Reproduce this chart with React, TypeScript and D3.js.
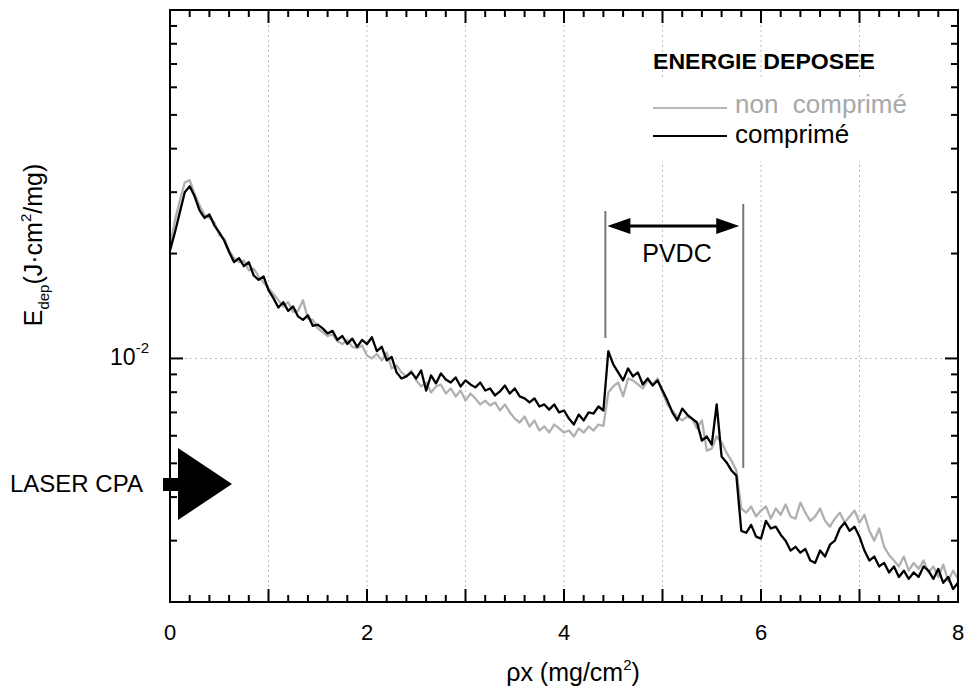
import React, { useRef, useEffect } from 'react';
import * as d3 from 'd3';

const width = 972;
const height = 691;

// sampling grid of the curves, rho*x in mg/cm2
const rhoX = d3.range(161).map((i) => +(i * 0.05).toFixed(2));

// deposited energy, in units of 1e-3 J.cm2/mg
const nonComprime = [
  21.1, 24.9, 28.4, 32.0, 32.5, 29.6, 27.5, 25.8, 25.3, 24.6,
  22.6, 22.1, 20.4, 19.4, 18.9, 19.1, 17.9, 18.1, 17.2, 16.5,
  15.9, 15.3, 14.7, 14.1, 14.5, 13.6, 13.7, 14.7, 13.0, 12.9,
  12.2, 11.9, 11.6, 11.7, 11.2, 11.0, 11.3, 10.8, 10.7, 10.9,
  10.2, 10.0, 10.3, 9.87, 10.4, 9.36, 9.55, 9.12, 8.88, 9.24,
  8.65, 8.31, 8.53, 7.98, 8.31, 8.42, 7.93, 8.20, 7.78, 8.09,
  7.57, 7.93, 7.68, 7.38, 7.57, 7.33, 7.48, 7.09, 7.38, 7.00,
  6.72, 6.55, 6.81, 6.38, 6.64, 6.21, 6.38, 6.13, 6.46, 6.30,
  6.13, 6.21, 5.97, 6.30, 6.13, 6.38, 6.21, 6.46, 6.40, 7.98,
  8.31, 8.53, 7.78, 8.76, 8.65, 8.42, 8.20, 8.65, 8.42, 8.76,
  7.98, 7.38, 7.09, 6.81, 6.64, 6.81, 6.72, 6.30, 6.64, 5.44,
  5.51, 5.97, 5.74, 5.37, 5.09, 4.77, 3.71, 3.61, 3.76, 3.52,
  3.66, 3.76, 3.47, 3.71, 3.56, 3.81, 3.52, 3.47, 3.86, 3.61,
  3.42, 3.52, 3.71, 3.42, 3.29, 3.47, 3.61, 3.38, 3.52, 3.66,
  3.38, 3.56, 3.20, 3.00, 3.25, 2.88, 2.73, 2.63, 2.53, 2.70,
  2.46, 2.59, 2.49, 2.63, 2.43, 2.53, 2.36, 2.56, 2.30, 2.46,
  2.33,
];

const comprime = [
  20.4, 23.0, 26.3, 30.0, 31.2, 29.2, 26.6, 25.3, 25.9, 24.1,
  23.0, 21.8, 20.2, 18.9, 19.4, 18.4, 18.9, 17.3, 16.8, 17.2,
  15.7, 14.9, 14.0, 14.5, 13.7, 14.1, 13.2, 12.9, 13.3, 12.4,
  12.5, 12.2, 11.8, 12.0, 11.3, 11.6, 11.0, 11.4, 10.8, 11.3,
  11.0, 11.5, 10.5, 10.8, 9.87, 10.1, 9.12, 8.76, 8.88, 9.12,
  8.76, 9.24, 8.09, 8.94, 8.48, 9.06, 8.70, 8.53, 8.82, 8.31,
  8.65, 8.42, 8.26, 8.53, 8.09, 8.20, 7.83, 8.04, 8.36, 7.93,
  8.20, 7.78, 7.68, 7.48, 7.68, 7.28, 7.38, 7.13, 7.38, 7.00,
  7.09, 6.72, 6.46, 6.90, 6.64, 7.00, 6.95, 7.28, 7.09, 10.5,
  9.61, 9.12, 8.65, 9.36, 8.88, 9.12, 8.42, 8.76, 8.36, 8.65,
  8.09, 7.57, 7.00, 6.64, 7.18, 6.90, 6.72, 6.55, 5.81, 5.97,
  5.66, 7.38, 5.23, 5.03, 4.77, 4.61, 3.20, 3.16, 3.33, 3.08,
  3.04, 3.42, 3.25, 3.29, 3.12, 3.00, 2.81, 2.88, 2.77, 2.84,
  2.63, 2.59, 2.81, 2.70, 2.92, 3.00, 3.25, 3.38, 3.20, 3.29,
  3.08, 2.81, 2.63, 2.70, 2.53, 2.59, 2.43, 2.53, 2.36, 2.46,
  2.33, 2.43, 2.36, 2.53, 2.46, 2.33, 2.49, 2.27, 2.36, 2.18,
  2.27,
];
const unit = 1e-3;

const xLabelTicks = [0, 2, 4, 6, 8];
const pvdcStart = 4.42;
const pvdcEnd = 5.82;

const FONT = '"Liberation Sans", Arial, Helvetica, sans-serif';

const App: React.FC = () => {
  const svgRef = useRef<SVGSVGElement>(null);

  useEffect(() => {
    const svg = d3.select(svgRef.current);
    svg.selectAll('*').remove();

    const left = 170, right = 958, top = 10, bottom = 602;
    const x = d3.scaleLinear().domain([0, 8]).range([left, right]);
    const y = d3.scaleLog().domain([0.002, 0.1]).range([bottom, top]);

    const g = svg.append('g').attr('font-family', FONT);

    // grid
    const grid = g.append('g').attr('stroke', '#bdbdbd').attr('stroke-width', 1).attr('stroke-dasharray', '2,3');
    d3.range(1, 8).forEach((v) => {
      grid.append('line').attr('x1', x(v)).attr('x2', x(v)).attr('y1', top).attr('y2', bottom);
    });
    grid.append('line').attr('x1', left).attr('x2', right).attr('y1', y(0.01)).attr('y2', y(0.01));

    // white box behind legend entries
    g.append('rect').attr('x', 640).attr('y', 78).attr('width', 280).attr('height', 83).attr('fill', '#fff');

    // curves
    const line = d3.line<number>()
      .x((_, i) => x(rhoX[i]))
      .y((d) => y(d * unit));

    g.append('path').datum(nonComprime).attr('d', line).attr('fill', 'none')
      .attr('stroke', '#b0b0b0').attr('stroke-width', 2.3).attr('stroke-linejoin', 'round');
    g.append('path').datum(comprime).attr('d', line).attr('fill', 'none')
      .attr('stroke', '#000').attr('stroke-width', 2.3).attr('stroke-linejoin', 'round');

    // ticks (inward on all four sides)
    const ticks = g.append('g').attr('stroke', '#000').attr('stroke-width', 2);
    d3.range(0, 41).forEach((i) => {
      const v = i * 0.2;
      const len = i % 5 === 0 ? 13 : 7;
      ticks.append('line').attr('x1', x(v)).attr('x2', x(v)).attr('y1', bottom).attr('y2', bottom - len);
      ticks.append('line').attr('x1', x(v)).attr('x2', x(v)).attr('y1', top).attr('y2', top + len);
    });
    const yTickVals: number[] = [];
    [0.001, 0.01].forEach((dec) => d3.range(1, 10).forEach((k) => yTickVals.push(k * dec)));
    yTickVals.push(0.1);
    yTickVals.filter((v) => v >= 0.002 - 1e-9).forEach((v) => {
      const major = Math.abs(v - 0.01) < 1e-9 || Math.abs(v - 0.1) < 1e-9;
      const len = major ? 13 : 7;
      ticks.append('line').attr('x1', left).attr('x2', left + len).attr('y1', y(v)).attr('y2', y(v));
      ticks.append('line').attr('x1', right).attr('x2', right - len).attr('y1', y(v)).attr('y2', y(v));
    });

    // frame
    g.append('rect').attr('x', left).attr('y', top).attr('width', right - left).attr('height', bottom - top)
      .attr('fill', 'none').attr('stroke', '#000').attr('stroke-width', 2);

    // tick labels
    xLabelTicks.forEach((v) => {
      g.append('text').attr('x', x(v)).attr('y', 640).attr('text-anchor', 'middle')
        .attr('font-size', 22).text(String(v));
    });
    const yl = g.append('text').attr('x', 149).attr('y', 365).attr('text-anchor', 'end').attr('font-size', 23);
    yl.append('tspan').text('10');
    yl.append('tspan').attr('dy', -12).attr('font-size', 15).text('-2');

    // axis titles
    const xt = g.append('text').attr('x', 573).attr('y', 681).attr('text-anchor', 'middle').attr('font-size', 25);
    xt.append('tspan').text('ρx (mg/cm');
    xt.append('tspan').attr('dy', -11).attr('font-size', 15).text('2');
    xt.append('tspan').attr('dy', 11).text(')');

    const yt = g.append('text').attr('transform', 'translate(42,245) rotate(-90)')
      .attr('text-anchor', 'middle').attr('font-size', 25);
    yt.append('tspan').text('E');
    yt.append('tspan').attr('dy', 7).attr('font-size', 15).text('dep');
    yt.append('tspan').attr('dy', -7).text('(J·cm');
    yt.append('tspan').attr('dy', -11).attr('font-size', 15).text('2');
    yt.append('tspan').attr('dy', 11).text('/mg)');

    // legend
    g.append('text').attr('x', 653).attr('y', 69).attr('font-size', 22).attr('font-weight', 'bold')
      .attr('textLength', 222).attr('lengthAdjust', 'spacingAndGlyphs').text('ENERGIE DEPOSEE');
    g.append('line').attr('x1', 653).attr('x2', 727).attr('y1', 108).attr('y2', 108)
      .attr('stroke', '#b8b8b8').attr('stroke-width', 2);
    g.append('text').attr('x', 735).attr('y', 113).attr('font-size', 26).attr('fill', '#a8a8a8')
      .attr('xml:space', 'preserve').style('white-space', 'pre').text('non  comprimé');
    g.append('line').attr('x1', 653).attr('x2', 727).attr('y1', 136).attr('y2', 136)
      .attr('stroke', '#000').attr('stroke-width', 2);
    g.append('text').attr('x', 735).attr('y', 143).attr('font-size', 26).text('comprimé');

    // PVDC annotation
    g.append('line').attr('x1', x(pvdcStart)).attr('x2', x(pvdcStart)).attr('y1', 211).attr('y2', 338)
      .attr('stroke', '#777').attr('stroke-width', 2);
    g.append('line').attr('x1', x(pvdcEnd)).attr('x2', x(pvdcEnd)).attr('y1', 204).attr('y2', 468)
      .attr('stroke', '#777').attr('stroke-width', 2);
    const ax1 = x(pvdcStart) + 2, ax2 = x(pvdcEnd) - 4, ay = 226;
    g.append('line').attr('x1', ax1 + 15).attr('x2', ax2 - 15).attr('y1', ay).attr('y2', ay)
      .attr('stroke', '#000').attr('stroke-width', 3);
    g.append('path').attr('d', `M${ax1},${ay}L${ax1 + 23},${ay - 8}L${ax1 + 23},${ay + 8}Z`).attr('fill', '#000');
    g.append('path').attr('d', `M${ax2},${ay}L${ax2 - 23},${ay - 8}L${ax2 - 23},${ay + 8}Z`).attr('fill', '#000');
    g.append('text').attr('x', 677).attr('y', 262).attr('text-anchor', 'middle').attr('font-size', 25).text('PVDC');

    // laser arrow
    g.append('rect').attr('x', 163).attr('y', 478).attr('width', 17).attr('height', 13).attr('fill', '#000');
    g.append('path').attr('d', 'M178,448L232,484L178,520Z').attr('fill', '#000');
    g.append('text').attr('x', 10).attr('y', 492).attr('font-size', 24).text('LASER CPA');
  }, []);

  return (
    <svg
      ref={svgRef}
      width={width}
      height={height}
      style={{ position: 'absolute', left: 0, top: 0, background: '#fff' }}
    />
  );
};

export default App;
